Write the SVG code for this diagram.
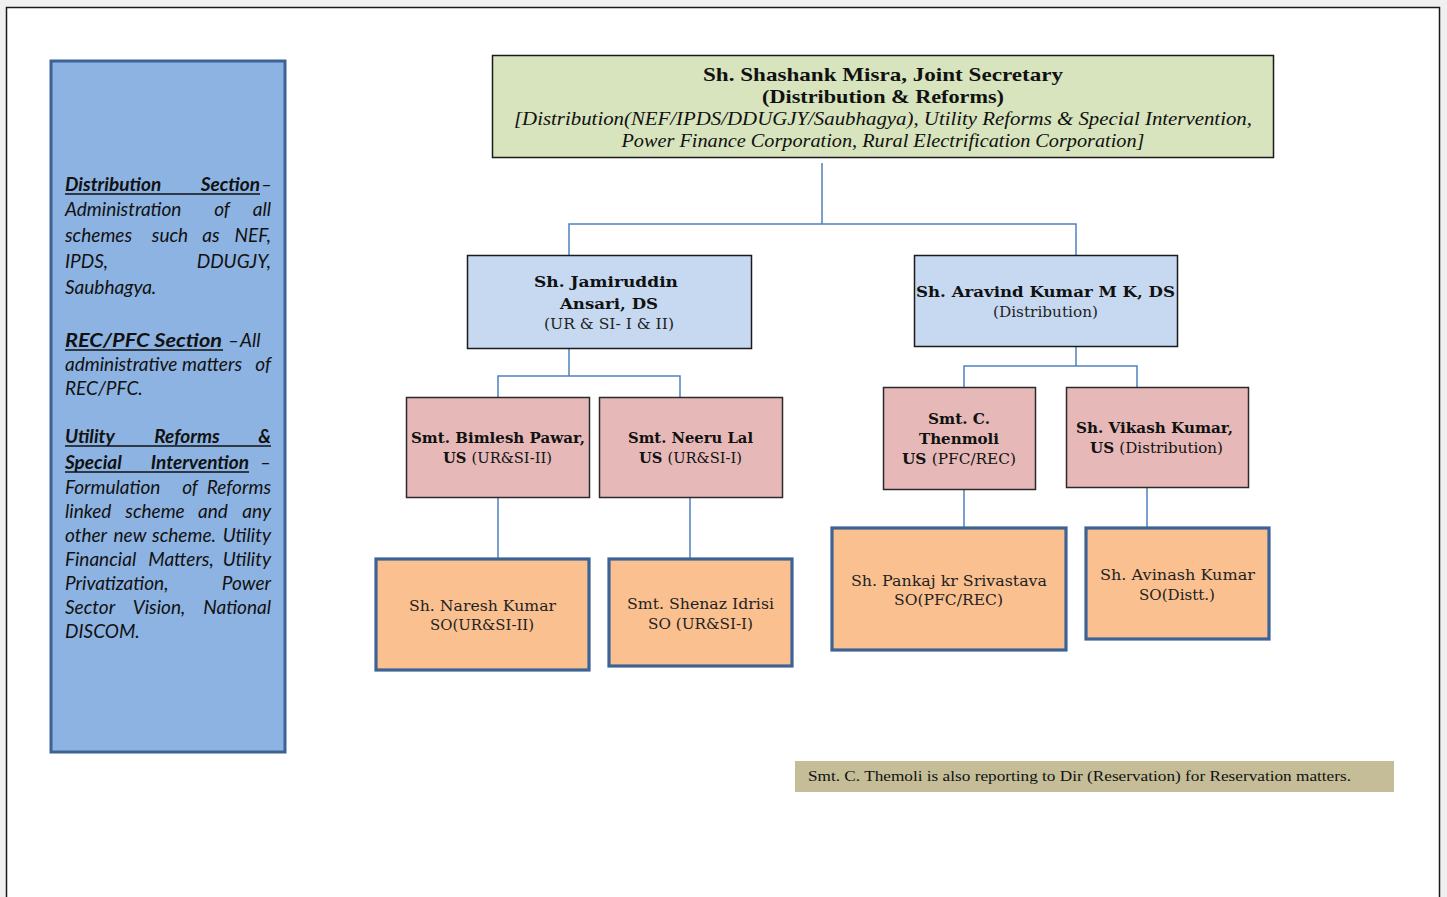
<svg xmlns="http://www.w3.org/2000/svg" width="1447" height="897" viewBox="0 0 1447 897">
  <style>
    .page { fill: #ffffff; stroke: #1a1a1a; stroke-width: 1.5; }
    .panel { fill: #8db3e2; stroke: #3d6396; stroke-width: 3; }
    .top { fill: #d7e4bd; stroke: #1a1a1a; stroke-width: 1.5; }
    .ds { fill: #c6d9f1; stroke: #1a1a1a; stroke-width: 1.5; }
    .us { fill: #e6b9b8; stroke: #2a2a2a; stroke-width: 1.5; }
    .so { fill: #fac090; stroke: #3d6396; stroke-width: 3.2; }
    .note { fill: #c4bd97; }
    .link { fill: none; stroke: #4f81bd; stroke-width: 1.5; }
    .ul { stroke: #111; stroke-width: 1.4; }
    .sec { font-family: Lato, "Liberation Sans", sans-serif; font-style: italic; font-size: 19px; fill: #111; }
    .sec .h { font-weight: bold; }
    .hd { font-family: "Liberation Serif", serif; font-weight: bold; font-size: 19px; fill: #111; text-anchor: middle; }
    .hi { font-family: "Liberation Serif", serif; font-style: italic; font-size: 18px; fill: #111; text-anchor: middle; }
    .nb { font-family: "DejaVu Serif", serif; font-weight: bold; font-size: 15px; fill: #111; text-anchor: middle; }
    .nr { font-family: "DejaVu Serif", serif; font-size: 15px; fill: #222; text-anchor: middle; }
    .nb .r { font-weight: normal; }
    .nt { font-family: "Liberation Serif", serif; font-size: 15.5px; fill: #111; }
  </style>

  <rect x="0" y="0" width="1447" height="897" fill="#f0f0f0"/>
  <rect class="page" x="6.5" y="7.5" width="1433" height="900"/>

  <!-- Section description panel (justified text, words placed one by one) -->
  <g id="sections">
    <rect class="panel" x="51" y="61" width="234" height="691"/>
    <g class="sec">
      <text y="191"><tspan class="h" x="65">Distribution</tspan><tspan class="h" x="260" text-anchor="end">Section</tspan><tspan x="272" text-anchor="end">–</tspan></text>
      <line class="ul" x1="65" y1="194" x2="260" y2="194"/>
      <text y="216"><tspan x="65">Administration</tspan><tspan x="222" text-anchor="middle">of</tspan><tspan x="271" text-anchor="end">all</tspan></text>
      <text y="242"><tspan x="65">schemes</tspan><tspan x="170" text-anchor="middle">such</tspan><tspan x="211" text-anchor="middle">as</tspan><tspan x="271" text-anchor="end">NEF,</tspan></text>
      <text y="268"><tspan x="65">IPDS,</tspan><tspan x="271" text-anchor="end">DDUGJY,</tspan></text>
      <text y="294"><tspan x="65">Saubhagya.</tspan></text>

      <text y="347"><tspan class="h" x="65" textLength="157" lengthAdjust="spacingAndGlyphs">REC/PFC Section</tspan><tspan x="228">–</tspan><tspan x="240">All</tspan></text>
      <line class="ul" x1="65" y1="350" x2="223" y2="350"/>
      <text y="371"><tspan x="65">administrative</tspan><tspan x="212" text-anchor="middle">matters</tspan><tspan x="271" text-anchor="end">of</tspan></text>
      <text y="395"><tspan x="65">REC/PFC.</tspan></text>

      <text y="443"><tspan class="h" x="65">Utility</tspan><tspan class="h" x="187" text-anchor="middle">Reforms</tspan><tspan class="h" x="271" text-anchor="end">&amp;</tspan></text>
      <line class="ul" x1="65" y1="446" x2="271" y2="446"/>
      <text y="469"><tspan class="h" x="65">Special</tspan><tspan class="h" x="249" text-anchor="end">Intervention</tspan><tspan x="271" text-anchor="end">–</tspan></text>
      <line class="ul" x1="65" y1="472" x2="249" y2="472"/>
      <text y="494"><tspan x="65">Formulation</tspan><tspan x="190" text-anchor="middle">of</tspan><tspan x="271" text-anchor="end">Reforms</tspan></text>
      <text y="518"><tspan x="65">linked</tspan><tspan x="155" text-anchor="middle">scheme</tspan><tspan x="213" text-anchor="middle">and</tspan><tspan x="271" text-anchor="end">any</tspan></text>
      <text y="542"><tspan x="65">other</tspan><tspan x="130" text-anchor="middle">new</tspan><tspan x="184" text-anchor="middle">scheme.</tspan><tspan x="271" text-anchor="end">Utility</tspan></text>
      <text y="566"><tspan x="65">Financial</tspan><tspan x="181" text-anchor="middle">Matters,</tspan><tspan x="271" text-anchor="end">Utility</tspan></text>
      <text y="590"><tspan x="65">Privatization,</tspan><tspan x="271" text-anchor="end">Power</tspan></text>
      <text y="614"><tspan x="65">Sector</tspan><tspan x="159" text-anchor="middle">Vision,</tspan><tspan x="271" text-anchor="end">National</tspan></text>
      <text y="638"><tspan x="65">DISCOM.</tspan></text>
    </g>
  </g>

  <!-- Connectors -->
  <g id="connectors" class="link">
    <path d="M822 163 V224 M569 255 V224 H1076 V255"/>
    <path d="M569 348 V376 M498 397 V376 H680 V397"/>
    <path d="M1076 346 V366 M964 387 V366 H1137 V387"/>
    <path d="M498 497 V558"/>
    <path d="M690 497 V558"/>
    <path d="M964 489 V528"/>
    <path d="M1147 487 V528"/>
  </g>

  <!-- Joint Secretary -->
  <g id="js">
    <rect class="top" x="492.5" y="55.5" width="781" height="102"/>
    <text class="hd" x="883" y="81" textLength="360" lengthAdjust="spacingAndGlyphs">Sh. Shashank Misra, Joint Secretary</text>
    <text class="hd" x="883" y="103" textLength="242" lengthAdjust="spacingAndGlyphs">(Distribution &amp; Reforms)</text>
    <text class="hi" x="883" y="125" textLength="738" lengthAdjust="spacingAndGlyphs">[Distribution(NEF/IPDS/DDUGJY/Saubhagya), Utility Reforms &amp; Special Intervention,</text>
    <text class="hi" x="883" y="147" textLength="523" lengthAdjust="spacingAndGlyphs">Power Finance Corporation, Rural Electrification Corporation]</text>
  </g>

  <!-- Deputy Secretaries -->
  <g id="ds-ansari">
    <rect class="ds" x="467.5" y="255.5" width="284" height="93"/>
    <text class="nb" x="606" y="287" textLength="144" lengthAdjust="spacingAndGlyphs">Sh. Jamiruddin</text>
    <text class="nb" x="609" y="309" textLength="98" lengthAdjust="spacingAndGlyphs">Ansari, DS</text>
    <text class="nr" x="609" y="329" textLength="130" lengthAdjust="spacingAndGlyphs">(UR &amp; SI-  I &amp; II)</text>
  </g>
  <g id="ds-aravind">
    <rect class="ds" x="914.5" y="255.5" width="263" height="91"/>
    <text class="nb" x="1045.5" y="297" textLength="259" lengthAdjust="spacingAndGlyphs">Sh. Aravind Kumar M K, DS</text>
    <text class="nr" x="1045.5" y="317" textLength="105" lengthAdjust="spacingAndGlyphs">(Distribution)</text>
  </g>

  <!-- Under Secretaries -->
  <g id="us-bimlesh">
    <rect class="us" x="406.5" y="397.5" width="183" height="100"/>
    <text class="nb" x="498" y="443" textLength="174" lengthAdjust="spacingAndGlyphs">Smt. Bimlesh Pawar,</text>
    <text class="nb" x="497.5" y="463" textLength="109" lengthAdjust="spacingAndGlyphs">US <tspan class="r">(UR&amp;SI-II)</tspan></text>
  </g>
  <g id="us-neeru">
    <rect class="us" x="599.5" y="397.5" width="183" height="100"/>
    <text class="nb" x="690.5" y="443" textLength="125" lengthAdjust="spacingAndGlyphs">Smt. Neeru Lal</text>
    <text class="nb" x="690.5" y="463" textLength="103" lengthAdjust="spacingAndGlyphs">US <tspan class="r">(UR&amp;SI-I)</tspan></text>
  </g>
  <g id="us-thenmoli">
    <rect class="us" x="883.5" y="387.5" width="152" height="102"/>
    <text class="nb" x="959" y="424" textLength="62" lengthAdjust="spacingAndGlyphs">Smt. C.</text>
    <text class="nb" x="959" y="444" textLength="80" lengthAdjust="spacingAndGlyphs">Thenmoli</text>
    <text class="nb" x="959" y="464" textLength="114" lengthAdjust="spacingAndGlyphs">US <tspan class="r">(PFC/REC)</tspan></text>
  </g>
  <g id="us-vikash">
    <rect class="us" x="1066.5" y="387.5" width="182" height="100"/>
    <text class="nb" x="1154.5" y="433" textLength="157" lengthAdjust="spacingAndGlyphs">Sh. Vikash Kumar,</text>
    <text class="nb" x="1156.5" y="453" textLength="133" lengthAdjust="spacingAndGlyphs">US <tspan class="r">(Distribution)</tspan></text>
  </g>

  <!-- Section Officers -->
  <g id="so-naresh">
    <rect class="so" x="376" y="559" width="213" height="111"/>
    <text class="nr" x="482.5" y="611" textLength="147" lengthAdjust="spacingAndGlyphs">Sh. Naresh Kumar</text>
    <text class="nr" x="482" y="630" textLength="104" lengthAdjust="spacingAndGlyphs">SO(UR&amp;SI-II)</text>
  </g>
  <g id="so-shenaz">
    <rect class="so" x="609" y="559" width="183" height="107"/>
    <text class="nr" x="700.5" y="609" textLength="147" lengthAdjust="spacingAndGlyphs">Smt. Shenaz Idrisi</text>
    <text class="nr" x="700.5" y="629" textLength="105" lengthAdjust="spacingAndGlyphs">SO (UR&amp;SI-I)</text>
  </g>
  <g id="so-pankaj">
    <rect class="so" x="832" y="528" width="234" height="122"/>
    <text class="nr" x="949" y="586" textLength="196" lengthAdjust="spacingAndGlyphs">Sh. Pankaj kr Srivastava</text>
    <text class="nr" x="948.5" y="605" textLength="109" lengthAdjust="spacingAndGlyphs">SO(PFC/REC)</text>
  </g>
  <g id="so-avinash">
    <rect class="so" x="1086" y="528" width="183" height="111"/>
    <text class="nr" x="1177.5" y="580" textLength="155" lengthAdjust="spacingAndGlyphs">Sh. Avinash Kumar</text>
    <text class="nr" x="1177" y="600" textLength="76" lengthAdjust="spacingAndGlyphs">SO(Distt.)</text>
  </g>

  <!-- Footnote -->
  <g id="footnote">
    <rect class="note" x="795" y="761" width="599" height="31"/>
    <text class="nt" x="808" y="781" textLength="543" lengthAdjust="spacingAndGlyphs">Smt. C. Themoli is also reporting to Dir (Reservation) for Reservation matters.</text>
  </g>
</svg>
